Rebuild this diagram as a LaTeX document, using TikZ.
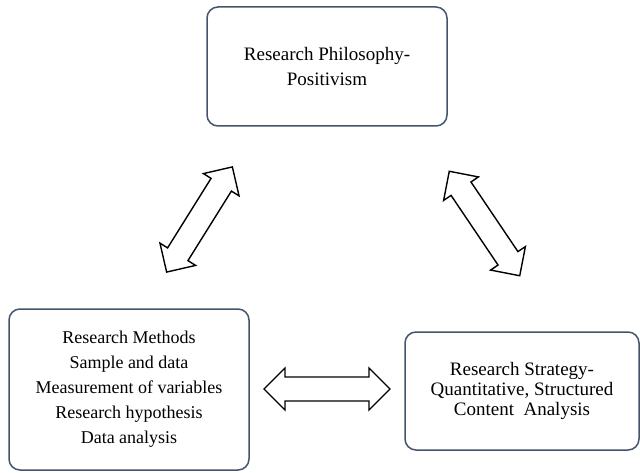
\documentclass[tikz,border=0pt]{standalone}
\usepackage{fontspec}
\setmainfont{Liberation Serif}
\definecolor{boxline}{HTML}{44546A}
\tikzset{
  stagebox/.style={draw=boxline, line width=1.5pt, rounded corners=11pt, fill=white,
    align=center, inner sep=0pt, font=\fontsize{19}{25}\selectfont},
  fatarrow/.style={draw=black, line width=1.4pt, fill=white, line join=miter}
}
\newcommand{\fatarrowat}[4]{% name, center, angle, half length
  \begin{scope}[shift={#2}, rotate=#3]
    \path[fatarrow] (-#4,0) -- (-#4+21,21) -- (-#4+21,12) -- (#4-21,12) -- (#4-21,21)
      -- (#4,0) -- (#4-21,-21) -- (#4-21,-12) -- (-#4+21,-12) -- (-#4+21,-21) -- cycle;
    \coordinate (#1) at (0,0);
  \end{scope}}
\begin{document}
\begin{tikzpicture}[x=1pt,y=-1pt]
\useasboundingbox (0,0) rectangle (640,473);
\node[stagebox, minimum width=240pt, minimum height=119pt] (phil) at (327,66.5)
  {Research Philosophy-\\Positivism};
\node[stagebox, minimum width=240pt, minimum height=161pt, font=\fontsize{18}{25}\selectfont] (meth) at (129,389.5)
  {Research Methods\\Sample and data\\Measurement of variables\\Research hypothesis\\Data analysis};
\node[stagebox, minimum width=234pt, minimum height=118pt, font=\fontsize{19}{20}\selectfont] (strat) at (522,391)
  {Research Strategy-\\Quantitative, Structured\\Content\ \ Analysis};
\fatarrowat{a1}{(199.5,219.5)}{58}{62}
\fatarrowat{a2}{(484.5,223.5)}{-56}{63}
\fatarrowat{a3}{(327,389)}{0}{63}
\end{tikzpicture}
\end{document}
